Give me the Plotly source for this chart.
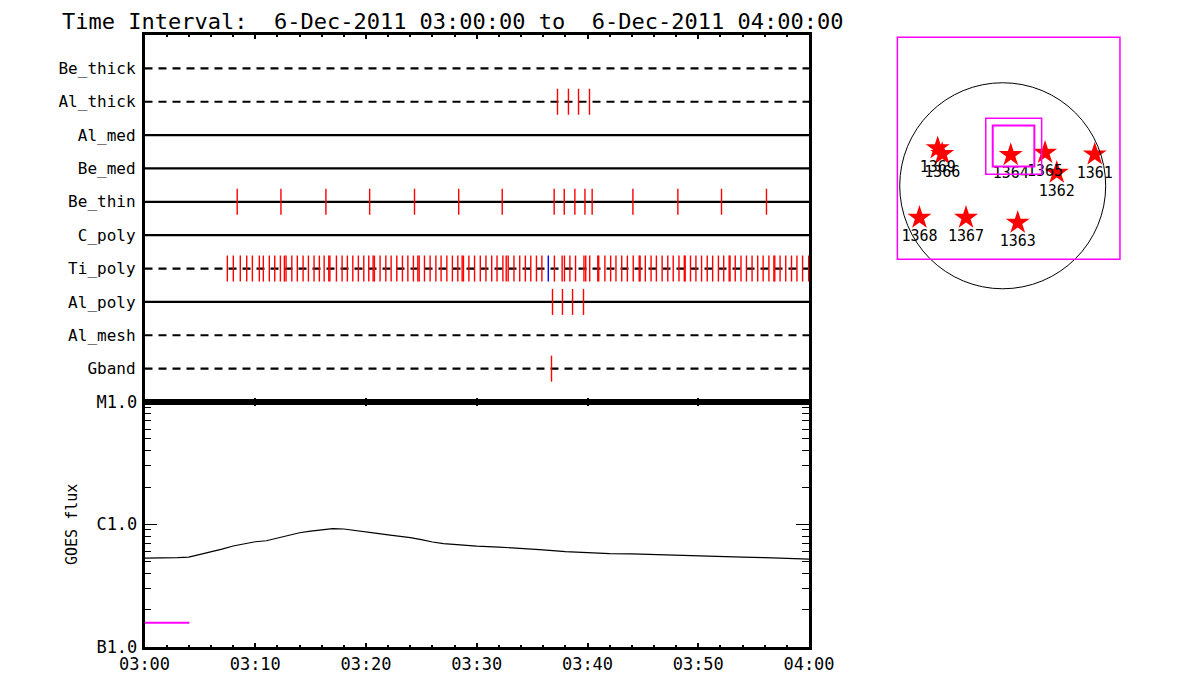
import plotly.graph_objects as go

# ---------------- data ----------------
row_names = ["Be_thick", "Al_thick", "Al_med", "Be_med", "Be_thin",
             "C_poly", "Ti_poly", "Al_poly", "Al_mesh", "Gband"]
row_dashed = [True, True, False, False, False, False, True, False, True, True]

# event times in minutes after 03:00
al_thick_t = [37.29, 38.28, 39.19, 40.18]
be_thin_t = [8.37, 12.32, 16.38, 20.33, 24.38, 28.37, 32.30, 36.99, 37.90,
             38.86, 39.77, 40.42, 44.10, 48.16, 52.10, 56.16]
ti_poly_t = [7.48, 8.02, 8.65, 9.23, 9.74, 10.37, 10.73, 11.27, 11.76, 12.27,
             12.63, 12.78, 13.30, 13.80, 14.32, 14.80, 15.31, 15.79, 16.22,
             16.64, 16.74, 17.33, 17.84, 18.32, 18.81, 19.31, 19.80, 20.25,
             20.64, 20.76, 21.27, 21.79, 22.27, 22.78, 23.29, 23.78, 24.28,
             24.68, 24.80, 25.28, 25.79, 26.31, 26.78, 27.30, 27.80, 28.29,
             28.68, 28.80, 29.29, 29.80, 30.32, 30.83, 31.35, 31.83, 32.36,
             32.66, 32.84, 33.36, 33.88, 34.39, 34.88, 35.39, 35.88, 37.01,
             37.71, 37.92, 38.41, 38.92, 39.68, 39.84, 40.20, 40.93, 41.01,
             41.57, 42.09, 42.57, 43.09, 43.60, 44.13, 44.67, 44.75, 45.22,
             45.74, 46.22, 46.74, 47.25, 47.74, 48.26, 48.74, 48.82, 49.30,
             49.79, 50.30, 50.81, 51.30, 51.82, 52.30, 52.79, 52.87, 53.34,
             53.86, 54.35, 54.86, 55.37, 55.86, 56.38, 56.83, 56.91, 57.39,
             57.90, 58.42, 58.91, 59.42, 59.97]
ti_poly_blue_t = [36.46]
al_poly_t = [36.84, 37.74, 38.65, 39.64]
gband_t = [36.75]

events = {"Al_thick": al_thick_t, "Be_thin": be_thin_t, "Ti_poly": ti_poly_t,
          "Al_poly": al_poly_t, "Gband": gband_t}

goes_t = [0, 1, 2, 3, 4, 5, 6, 7, 8, 9, 10, 11, 12, 13, 14, 15, 16, 17, 18,
          19, 20, 21, 22, 23, 24, 25, 26, 27, 28, 30, 32, 34, 36, 38, 40, 42,
          44, 46, 48, 50, 52, 54, 56, 58, 60]
goes_flux = [5.30e-7, 5.30e-7, 5.30e-7, 5.35e-7, 5.40e-7, 5.66e-7, 5.94e-7,
             6.28e-7, 6.65e-7, 6.97e-7, 7.21e-7, 7.34e-7, 7.73e-7, 8.15e-7,
             8.54e-7, 8.81e-7, 9.07e-7, 9.24e-7, 9.16e-7, 8.95e-7, 8.68e-7,
             8.44e-7, 8.21e-7, 8.02e-7, 7.80e-7, 7.51e-7, 7.17e-7, 6.97e-7,
             6.84e-7, 6.65e-7, 6.52e-7, 6.37e-7, 6.19e-7, 5.99e-7, 5.86e-7,
             5.76e-7, 5.74e-7, 5.66e-7, 5.57e-7, 5.50e-7, 5.44e-7, 5.40e-7,
             5.35e-7, 5.28e-7, 5.20e-7]
magenta_t = [0, 4.05]
magenta_flux = [1.57e-7, 1.57e-7]

x_tick_vals = [0, 10, 20, 30, 40, 50, 60]
x_tick_text = ["03:00", "03:10", "03:20", "03:30", "03:40", "03:50", "04:00"]
x_minor_vals = [2, 4, 6, 8, 12, 14, 16, 18, 22, 24, 26, 28, 32, 34, 36, 38,
                42, 44, 46, 48, 52, 54, 56, 58]
y_tick_vals = [1e-7, 1e-6, 1e-5]
y_tick_text = ["B1.0", "C1.0", "M1.0"]
y_minor_vals = [2e-7, 3e-7, 4e-7, 5e-7, 6e-7, 7e-7, 8e-7, 9e-7,
                2e-6, 3e-6, 4e-6, 5e-6, 6e-6, 7e-6, 8e-6, 9e-6]

# solar map (arcsec)
sun_radius = 960
ar_names = ["1369", "1366", "1364", "1365", "1362", "1361", "1368", "1367", "1363"]
ar_x = [-606, -564, 75, 395, 504, 858, -776, -342, 140]
ar_y = [350, 297, 287, 308, 122, 293, -297, -297, -343]
outer_box = [-982, 1093, -685, 1384]
fov_outer = [-158, 363, 107, 629]
fov_inner = [-93, 295, 179, 561]

title_text = "Time Interval:  6-Dec-2011 03:00:00 to  6-Dec-2011 04:00:00"

# ---------------- figure ----------------
FONT = "DejaVu Sans Mono"
W, H = 1200, 700
OX, OY = 8, 8  # page body offset


def px(x):
    return (x - OX) / W


def py(y):
    return 1 - (y - OY) / H


xl, xr = px(144.5), px(809)
top_dom = [py(402), py(35)]
bot_dom = [py(646.7), py(402)]

fig = go.Figure()
n = len(row_names)
row_y = {name: n - i for i, name in enumerate(row_names)}
half = 0.39

for name, dashed in zip(row_names, row_dashed):
    yv = row_y[name]
    fig.add_trace(go.Scatter(x=[0, 60], y=[yv, yv], mode="lines",
                             line=dict(color="black", width=2.2,
                                       dash="8px,6px" if dashed else "solid"),
                             xaxis="x", yaxis="y", hoverinfo="skip", showlegend=False))


def tick_trace(times, yv, color):
    xs, ys = [], []
    for t in times:
        xs += [t, t, None]
        ys += [yv - half, yv + half, None]
    return go.Scatter(x=xs, y=ys, mode="lines", line=dict(color=color, width=1.4),
                      xaxis="x", yaxis="y", hoverinfo="skip", showlegend=False)


for name, times in events.items():
    fig.add_trace(tick_trace(times, row_y[name], "#ff0000"))
fig.add_trace(tick_trace(ti_poly_blue_t, row_y["Ti_poly"], "#0000ff"))

# GOES
fig.add_trace(go.Scatter(x=goes_t, y=goes_flux, mode="lines",
                         line=dict(color="black", width=1.2),
                         xaxis="x2", yaxis="y2", showlegend=False))
fig.add_trace(go.Scatter(x=magenta_t, y=magenta_flux, mode="lines",
                         line=dict(color="#ff00ff", width=2),
                         xaxis="x2", yaxis="y2", showlegend=False))

# solar map
fig.add_trace(go.Scatter(x=ar_x, y=ar_y, mode="markers+text", text=ar_names,
                         textposition="bottom center",
                         textfont=dict(family=FONT, size=15, color="black"),
                         marker=dict(symbol="star", size=18, color="#ff0000",
                                     line=dict(width=0)),
                         xaxis="x3", yaxis="y3", showlegend=False, cliponaxis=False))

fig.add_shape(type="circle", xref="x3", yref="y3", x0=-sun_radius, x1=sun_radius,
              y0=-sun_radius, y1=sun_radius, line=dict(color="black", width=1))
for box, w in [(outer_box, 1.5), (fov_outer, 1.5), (fov_inner, 2)]:
    fig.add_shape(type="rect", xref="x3", yref="y3", x0=box[0], x1=box[1],
                  y0=box[2], y1=box[3], line=dict(color="#ff00ff", width=w))

fig.add_annotation(text=title_text, xref="paper", yref="paper", x=px(61), y=1.0,
                   xanchor="left", yanchor="top", showarrow=False, borderpad=0,
                   font=dict(family=FONT, size=22, color="black"))

axis_common = dict(showgrid=False, zeroline=False, showline=True, linecolor="black",
                   linewidth=2.5, automargin=False)

fig.update_layout(
    template="none",
    width=W, height=H, margin=dict(l=0, r=0, t=0, b=0, pad=0, autoexpand=False),
    paper_bgcolor="white", plot_bgcolor="white", showlegend=False,
    font=dict(family=FONT, color="black"),
    xaxis=dict(axis_common, domain=[xl, xr], anchor="y", range=[0, 60],
               mirror="ticks", ticks="inside", tickvals=x_tick_vals, ticklen=4,
               tickwidth=2, tickcolor="black", showticklabels=False,
               minor=dict(tickmode="array", tickvals=x_minor_vals, ticks="inside",
                          ticklen=2, tickwidth=2, tickcolor="black", showgrid=False)),
    yaxis=dict(axis_common, domain=top_dom, anchor="x", range=[0, 11], mirror=True,
               tickvals=[row_y[r] for r in row_names], ticktext=row_names, ticks="",
               ticklabelstandoff=3, tickfont=dict(family=FONT, size=16)),
    xaxis2=dict(axis_common, domain=[xl, xr], anchor="y2", range=[0, 60],
                mirror="ticks", ticks="inside", tickvals=x_tick_vals, ticktext=x_tick_text,
                ticklen=4, tickwidth=2, tickcolor="black",
                tickfont=dict(family=FONT, size=17),
                minor=dict(tickmode="array", tickvals=x_minor_vals, ticks="inside",
                           ticklen=2, tickwidth=2, tickcolor="black", showgrid=False)),
    yaxis2=dict(axis_common, domain=bot_dom, anchor="x2", type="log", range=[-7, -5],
                mirror="ticks", ticks="inside", tickvals=y_tick_vals, ticktext=y_tick_text,
                ticklen=13, tickwidth=1.2, tickcolor="black",
                tickfont=dict(family=FONT, size=17), ticklabelstandoff=1,
                title=dict(text="GOES flux", font=dict(family=FONT, size=15), standoff=16),
                minor=dict(tickmode="array", tickvals=y_minor_vals, ticks="inside",
                           ticklen=7, tickwidth=1.2, tickcolor="black", showgrid=False)),
    xaxis3=dict(domain=[px(895), px(1122)], anchor="y3", range=[-1004, 1112],
                visible=False, showgrid=False, zeroline=False, automargin=False),
    yaxis3=dict(domain=[py(292), py(35)], anchor="x3", range=[-990, 1405],
                visible=False, showgrid=False, zeroline=False, automargin=False),
)

fig.write_html("out.html")
